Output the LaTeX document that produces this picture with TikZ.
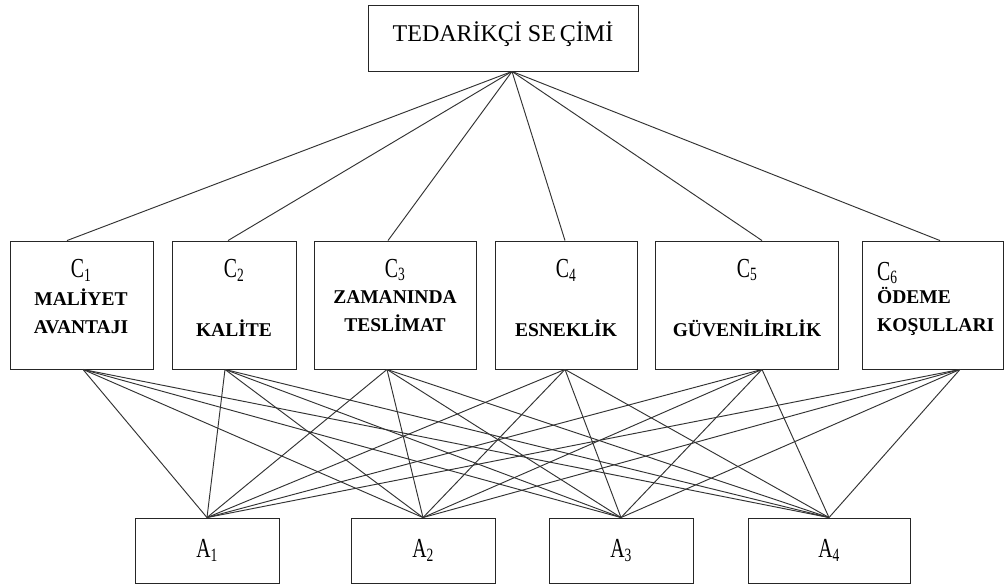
\documentclass[tikz,border=0pt]{standalone}
\usepackage{fontspec}
\setmainfont{Liberation Serif}
\usetikzlibrary{calc}
\tikzset{
  box/.style={draw=black!85, line width=0.9pt, inner sep=0pt, rectangle},
  abox/.style={box, minimum height=65pt, font=\fontsize{22}{24}\selectfont},
  link/.style={draw=black!80, line width=0.95pt},
  clab/.style={inner sep=0pt, font=\fontsize{22}{24}\selectfont},
  ctext/.style={inner sep=0pt, align=center, font=\fontsize{19.5}{28}\selectfont\bfseries}
}
\newcommand{\tallC}[1]{\scalebox{0.9}[1.25]{C\textsubscript{\fontsize{15}{16}\selectfont #1}}}
\newcommand{\tallA}[1]{\scalebox{0.9}[1.25]{A\textsubscript{\fontsize{15}{16}\selectfont #1}}}
\begin{document}
\begin{tikzpicture}[x=1pt,y=-1pt]
\useasboundingbox (0,0) rectangle (1005,584);
% top
\node[box, minimum width=270pt, minimum height=66pt] (T) at (503,38) {};
\node[inner sep=0pt, font=\fontsize{24}{26}\selectfont] (Tl) at (503,34) {TEDARİKÇİ SE\,ÇİMİ};
\coordinate (apex) at ([xshift=9pt]T.south);
% criteria boxes
\node[box, minimum width=143pt, minimum height=128pt] (C1) at (81.5,305) {};
\node[box, minimum width=124pt, minimum height=128pt] (C2) at (234,305) {};
\node[box, minimum width=162pt, minimum height=128pt] (C3) at (395,305) {};
\node[box, minimum width=142pt, minimum height=128pt] (C4) at (566,305) {};
\node[box, minimum width=183pt, minimum height=128pt] (C5) at (746.5,305) {};
\node[box, minimum width=141pt, minimum height=128pt] (C6) at (932.5,305) {};
% criteria labels
\node[clab] (C1l) at (81,270) {\tallC{1}};
\node[ctext] (C1t) at (81,311) {MALİYET\\AVANTAJI};
\node[clab] (C2l) at (234,270) {\tallC{2}};
\node[ctext] (C2t) at (234,328) {KALİTE};
\node[clab] (C3l) at (395,270) {\tallC{3}};
\node[ctext] (C3t) at (395,311) {ZAMANINDA\\TESLİMAT};
\node[clab] (C4l) at (566,270) {\tallC{4}};
\node[ctext] (C4t) at (566,328) {ESNEKLİK};
\node[clab] (C5l) at (747,270) {\tallC{5}};
\node[ctext] (C5t) at (747,328) {GÜVENİLİRLİK};
\node[clab, anchor=west] (C6l) at (877,273) {\tallC{6}};
\node[ctext, anchor=west, align=left] (C6t) at (877,311) {ÖDEME\\KOŞULLARI};
% alternative boxes
\node[abox, minimum width=144pt] (A1) at (207,550.5) {\tallA{1}};
\node[abox, minimum width=144pt] (A2) at (423,550.5) {\tallA{2}};
\node[abox, minimum width=144pt] (A3) at (621,550.5) {\tallA{3}};
\node[abox, minimum width=162pt] (A4) at (829,550.5) {\tallA{4}};
% attachment points on criteria boxes
\coordinate (C1n) at ([xshift=-14.5pt]C1.north);
\coordinate (C2n) at ([xshift=-6pt]C2.north);
\coordinate (C3n) at ([xshift=-7pt]C3.north);
\coordinate (C4n) at ([xshift=-1pt]C4.north);
\coordinate (C5n) at ([xshift=15.5pt]C5.north);
\coordinate (C6n) at ([xshift=7.5pt]C6.north);
\coordinate (C1s) at ([xshift=1.5pt]C1.south);
\coordinate (C2s) at ([xshift=-9pt]C2.south);
\coordinate (C3s) at ([xshift=-8pt]C3.south);
\coordinate (C4s) at ([xshift=-1pt]C4.south);
\coordinate (C5s) at ([xshift=15.5pt]C5.south);
\coordinate (C6s) at ([xshift=27.5pt]C6.south);
% top links
\foreach \i in {1,...,6} {
  \draw[link] (apex) -- (C\i n);
}
% bottom links
\foreach \i in {1,...,6} {
  \foreach \j in {1,...,4} {
    \draw[link] (C\i s) -- (A\j.north);
  }
}
\end{tikzpicture}
\end{document}
